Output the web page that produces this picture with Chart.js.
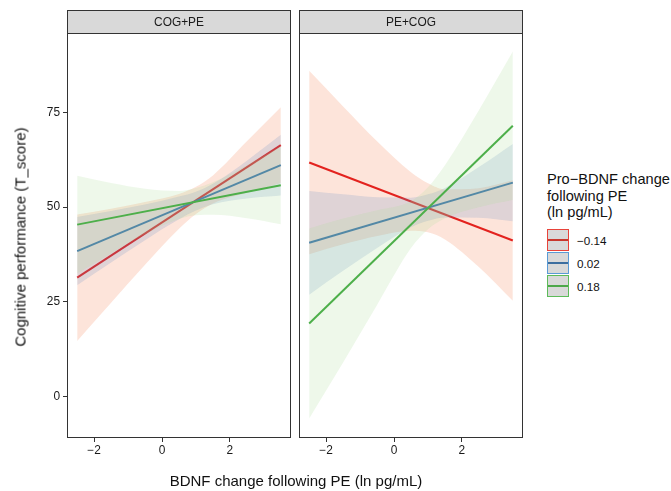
<!DOCTYPE html>
<html>
<head>
<meta charset="utf-8">
<script src="https://cdn.jsdelivr.net/npm/chart.js@4.4.1/dist/chart.umd.min.js"></script>
<style>
  body { margin: 0; background: #fff; font-family: 'Liberation Sans', Arial, sans-serif; }
  #wrap { position: relative; width: 671px; height: 491px; overflow: hidden; background: #fff; }
  canvas { position: absolute; top: 0; }
  #c1 { left: 0; }
  #c2 { left: 295px; }
  .ytitle { position: absolute; left: 20px; top: 237px; transform: translate(-50%, -50%) rotate(-90deg);
            white-space: nowrap; font-size: 15px; color: #111; }
  .xtitle { position: absolute; left: 296px; top: 480px; transform: translate(-50%, -50%);
            white-space: nowrap; font-size: 15px; color: #111; }
  #legend { position: absolute; left: 547px; top: 171px; color: #111; }
  .ltitle { font-size: 14.6px; line-height: 16.5px; white-space: nowrap; margin-bottom: 8px; }
  .key { display: flex; align-items: center; height: 23px; }
  .box { box-sizing: border-box; width: 22px; height: 22px; background: #D9D9D9; border: 1.5px solid;
         position: relative; }
  .box span { position: absolute; left: 0; right: 0; top: 8.5px; height: 2px; }
  .lab { font-size: 11.7px; margin-left: 8px; }
</style>
</head>
<body>
<div id="wrap">
  <canvas id="c1" width="295" height="491"></canvas>
  <canvas id="c2" width="232" height="491"></canvas>
  <div class="ytitle">Cognitive performance (T_score)</div>
  <div class="xtitle">BDNF change following PE (ln pg/mL)</div>
  <div id="legend"></div>
</div>
<script>
// facets and groups
const panels = ['COG+PE', 'PE+COG']
const groupLabels = ['\u22120.14', '0.02', '0.18']
const xTicks = [-2, 0, 2]
const yTicks = [0, 25, 50, 75]

// fitted lines (ends at x = -2.5 and 3.5)
const lineX = [-2.5, 3.5]
const cogpeRedLine = [31.4, 66.4]
const cogpeBlueLine = [38.4, 61.1]
const cogpeGreenLine = [45.4, 55.8]
const pecogRedLine = [61.8, 41.2]
const pecogBlueLine = [40.6, 56.5]
const pecogGreenLine = [19.3, 71.5]

// confidence bands
const bandX = [-2.5, -1.5, -0.5, 0.5, 1, 1.5, 2.5, 3.5]
const cogpeRedUp = [48.1, 49.6, 51.4, 53.5, 55.4, 58.4, 67.4, 76.4]
const cogpeRedLo = [14.7, 24.8, 34.8, 44.3, 48.2, 51.0, 53.8, 56.4]
const cogpeBlueUp = [47.4, 49.0, 50.7, 52.8, 54.1, 56.2, 62.3, 69.1]
const cogpeBlueLo = [29.4, 35.4, 41.3, 46.8, 49.1, 50.8, 52.3, 53.1]
const cogpeGreenUp = [58.3, 56.4, 54.9, 54.3, 55.1, 56.6, 61.1, 66.1]
const cogpeGreenLo = [32.5, 37.8, 42.9, 46.9, 47.9, 48.0, 47.1, 45.5]
const pecogRedUp = [86.0, 76.6, 67.4, 59.2, 56.3, 54.7, 55.0, 57.1]
const pecogRedLo = [37.6, 40.2, 42.4, 43.8, 43.4, 41.5, 34.2, 25.3]
const pecogBlueUp = [54.3, 53.4, 52.6, 52.5, 53.4, 55.1, 60.6, 66.7]
const pecogBlueLo = [26.9, 33.2, 39.2, 44.7, 46.4, 47.3, 47.2, 46.3]
const pecogGreenUp = [44.4, 47.0, 49.2, 51.6, 55.3, 61.1, 75.6, 91.1]
const pecogGreenLo = [-5.8, 9.0, 24.2, 39.2, 44.2, 47.1, 50.0, 51.9]

const lineCols = ['#E3221E', '#3E74AA', '#4DAF4A']
const fillCols = ['rgba(245,120,70,0.2)', 'rgba(98,142,193,0.2)', 'rgba(170,220,150,0.2)']
const keyBorder = ['#E8433A', '#5B9BD5', '#5DBB5A']
const keyLine = ['#C8372D', '#3C6E9F', '#4DA84A']

const FONT = "'Liberation Sans', Arial, sans-serif"
Chart.defaults.font.family = FONT

const fmt = v => v < 0 ? '\u2212' + Math.abs(v) : String(v)
const pts = (xs, ys) => xs.map((x, i) => ({ x: x, y: ys[i] }))

const panelDeco = {
    id: 'panelDeco',
    afterDraw(chart, args, opts) {
        const ctx = chart.ctx
        const a = chart.chartArea
        ctx.save()
        ctx.strokeStyle = '#333'
        ctx.lineWidth = 1
        ctx.strokeRect(Math.round(a.left) + 0.5, Math.round(a.top) + 0.5, Math.round(a.right - a.left) - 1, Math.round(a.bottom - a.top) - 1)
        ctx.fillStyle = '#D9D9D9'
        ctx.fillRect(a.left, 10, a.right - a.left, a.top - 10)
        ctx.strokeRect(Math.round(a.left) + 0.5, 10.5, Math.round(a.right - a.left) - 1, a.top - 10)
        ctx.fillStyle = '#1a1a1a'
        ctx.font = '11.9px ' + FONT
        ctx.textAlign = 'center'
        ctx.textBaseline = 'middle'
        ctx.fillText(opts.text, (a.left + a.right) / 2, (10 + a.top) / 2 + 1)
        ctx.restore()
    }
}

function makePanel(id, title, lines, ups, los, showY, pad) {
    const datasets = []
    for (let g = 0; g < 3; g++) {
        const base = 9 - g * 3
        datasets.push({
            data: pts(bandX, ups[g]), borderWidth: 0, pointRadius: 0,
            fill: '+1', backgroundColor: fillCols[g], cubicInterpolationMode: 'monotone', order: base
        })
        datasets.push({
            data: pts(bandX, los[g]), borderWidth: 0, pointRadius: 0,
            fill: false, cubicInterpolationMode: 'monotone', order: base
        })
        datasets.push({
            data: pts(lineX, lines[g]), borderColor: lineCols[g], borderWidth: 2, pointRadius: 0,
            fill: false, order: base - 1
        })
    }
    return new Chart(document.getElementById(id), {
        type: 'line',
        data: { datasets: datasets },
        options: {
            responsive: false,
            animation: false,
            devicePixelRatio: 1,
            layout: { padding: pad },
            plugins: { legend: { display: false }, tooltip: { enabled: false }, panelDeco: { text: title } },
            scales: {
                x: {
                    type: 'linear', min: -2.8, max: 3.8,
                    afterBuildTicks: s => { s.ticks = xTicks.map(v => ({ value: v })) },
                    afterFit: s => { s.height = 53 },
                    ticks: { callback: fmt, color: '#1a1a1a', font: { size: 11.9 }, padding: 2, maxRotation: 0, autoSkip: false },
                    grid: { drawOnChartArea: false, drawTicks: true, tickLength: 4, color: '#333' },
                    border: { display: false }
                },
                y: {
                    display: showY, min: -10.94, max: 96,
                    afterBuildTicks: s => { s.ticks = yTicks.map(v => ({ value: v })) },
                    afterFit: s => { s.width = showY ? 67 : 0 },
                    ticks: { callback: fmt, color: '#1a1a1a', font: { size: 11.9 }, padding: 3, autoSkip: false },
                    grid: { drawOnChartArea: false, drawTicks: true, tickLength: 4, color: '#333' },
                    border: { display: false }
                }
            }
        },
        plugins: [panelDeco]
    })
}

makePanel('c1', panels[0],
    [cogpeRedLine, cogpeBlueLine, cogpeGreenLine],
    [cogpeRedUp, cogpeBlueUp, cogpeGreenUp],
    [cogpeRedLo, cogpeBlueLo, cogpeGreenLo],
    true, { top: 33, right: 4, left: 0, bottom: 0 })

makePanel('c2', panels[1],
    [pecogRedLine, pecogBlueLine, pecogGreenLine],
    [pecogRedUp, pecogBlueUp, pecogGreenUp],
    [pecogRedLo, pecogBlueLo, pecogGreenLo],
    false, { top: 33, right: 4, left: 4, bottom: 0 })

// legend
const legend = document.getElementById('legend')
let html = '<div class="ltitle">Pro\u2212BDNF change<br>following PE<br>(ln pg/mL)</div>'
groupLabels.forEach((lab, g) => {
    html += '<div class="key"><div class="box" style="border-color:' + keyBorder[g] + '"><span style="background:' +
        keyLine[g] + '"></span></div><div class="lab">' + lab + '</div></div>'
})
legend.innerHTML = html
</script>
</body>
</html>
